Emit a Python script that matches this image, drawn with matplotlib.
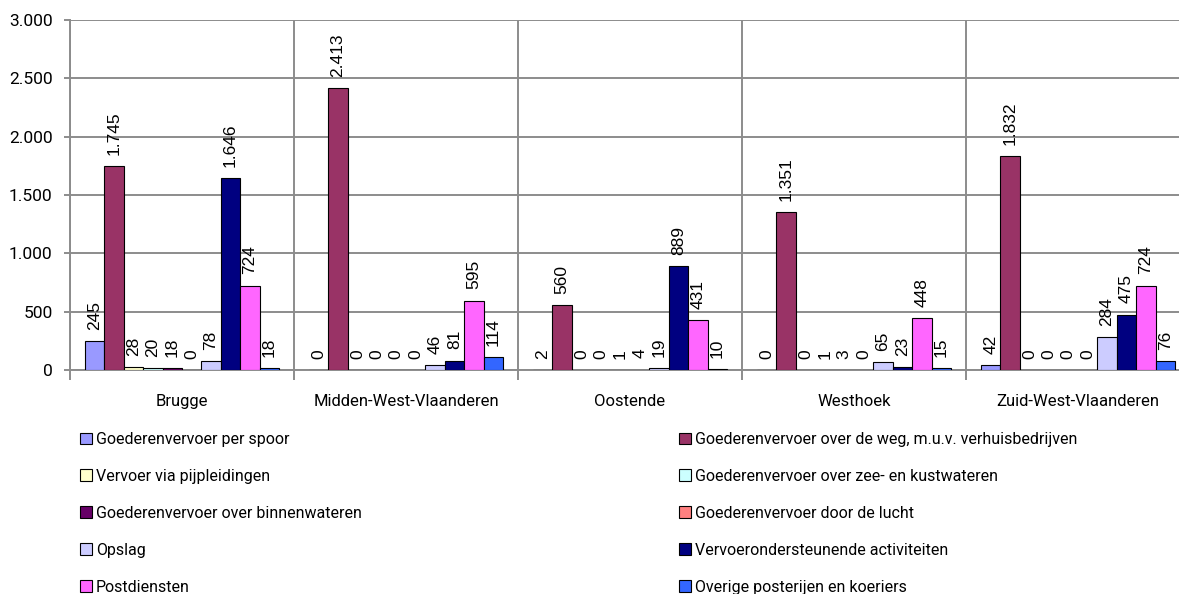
import numpy as np
import matplotlib
matplotlib.use('Agg')
import matplotlib.pyplot as plt
from matplotlib.patches import Patch

regions = ['Brugge', 'Midden-West-Vlaanderen', 'Oostende', 'Westhoek', 'Zuid-West-Vlaanderen']

series = [
    'Goederenvervoer per spoor',
    'Goederenvervoer over de weg, m.u.v. verhuisbedrijven',
    'Vervoer via pijpleidingen',
    'Goederenvervoer over zee- en kustwateren',
    'Goederenvervoer over binnenwateren',
    'Goederenvervoer door de lucht',
    'Opslag',
    'Vervoerondersteunende activiteiten',
    'Postdiensten',
    'Overige posterijen en koeriers',
]

spoor = [245, 0, 2, 0, 42]
weg = [1745, 2413, 560, 1351, 1832]
pijpleidingen = [28, 0, 0, 0, 0]
zee = [20, 0, 0, 1, 0]
binnenwateren = [18, 0, 1, 3, 0]
lucht = [0, 0, 4, 0, 0]
opslag = [78, 46, 19, 65, 284]
ondersteunend = [1646, 81, 889, 23, 475]
post = [724, 595, 431, 448, 724]
overige = [18, 114, 10, 15, 76]

values = [spoor, weg, pijpleidingen, zee, binnenwateren, lucht, opslag, ondersteunend, post, overige]

colors = ['#9999FF', '#993366', '#FFFFCC', '#CCFFFF', '#660066',
          '#FF8080', '#CCCCFF', '#000080', '#FF66FF', '#3366FF']

ytick_vals = [0, 500, 1000, 1500, 2000, 2500, 3000]
ytick_labels = ['0', '500', '1.000', '1.500', '2.000', '2.500', '3.000']

W, H = 1179, 594
fig = plt.figure(figsize=(W / 100, H / 100), dpi=100)
ax = fig.add_axes([70 / W, 1 - 370 / H, 1120 / W, 350 / H])

lab_font = 'Roboto'
val_font = 'Liberation Sans'
gridc = '#8c8c8c'

x = np.arange(len(regions))
bw = 0.0866
n = len(series)
for i in range(n):
    pos = x - bw * n / 2 + bw * (i + 0.5)
    ax.bar(pos, values[i], width=bw, color=colors[i], edgecolor='black', linewidth=0.8, zorder=3)
    for px, v in zip(pos, values[i]):
        txt = f'{v:,}'.replace(',', '.')
        ax.annotate(txt, (px, v), xytext=(0, 8), textcoords='offset points',
                    ha='center', va='bottom', rotation=90, fontsize=12.5,
                    family=val_font, color='black', zorder=4)

ax.set_xlim(-0.5, len(regions) - 0.5)
ax.set_ylim(0, 3000)
ax.set_yticks(ytick_vals)
ax.set_yticklabels(ytick_labels, family=lab_font, fontsize=12.5)
ax.yaxis.grid(True, color=gridc, linewidth=1.4, zorder=0)

ax.set_xticks(x)
ax.set_xticklabels(regions, family=lab_font, fontsize=12)
ax.tick_params(axis='x', length=0, pad=17)
ax.set_xticks(np.arange(len(regions) + 1) - 0.5, minor=True)
ax.tick_params(axis='x', which='minor', length=7, color=gridc, width=1.4)
ax.tick_params(axis='y', length=4.5, color=gridc, width=1.4, pad=8)
ax.xaxis.grid(True, which='minor', color=gridc, linewidth=1.4, zorder=0)

for s in ['top', 'right']:
    ax.spines[s].set_visible(False)
ax.spines['left'].set_color(gridc)
ax.spines['left'].set_linewidth(1.4)
ax.spines['bottom'].set_color(gridc)
ax.spines['bottom'].set_linewidth(1.4)

handles = [Patch(facecolor=c, edgecolor='black', linewidth=0.8) for c in colors]
for col, xpos in [(0, 80), (1, 679)]:
    idx = list(range(col, n, 2))
    leg = fig.legend([handles[k] for k in idx], [series[k] for k in idx],
                     loc='upper left', bbox_to_anchor=(xpos / W, 1 - 432 / H),
                     frameon=False, prop={'family': lab_font, 'size': 11.5},
                     handlelength=0.75, handleheight=0.75, handletextpad=0.25,
                     labelspacing=1.37, borderpad=0, borderaxespad=0)

fig.savefig('out.png', dpi=100)
